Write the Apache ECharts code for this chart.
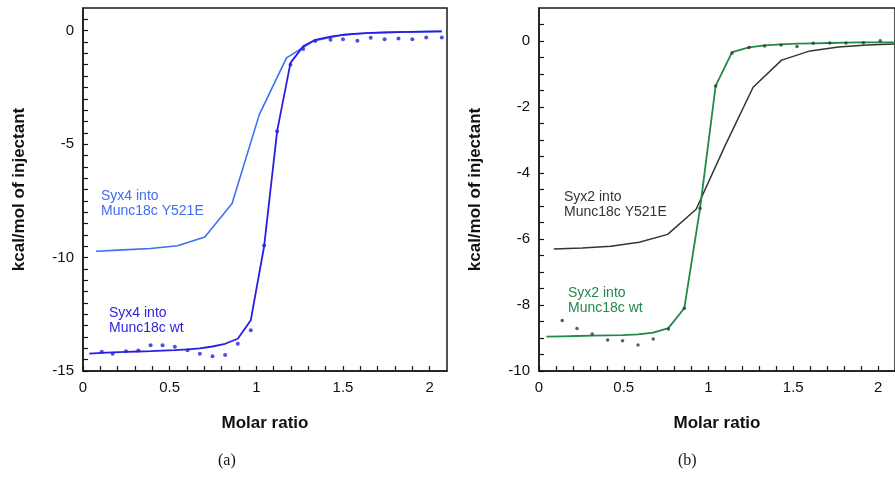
<!DOCTYPE html>
<html>
<head>
<meta charset="utf-8">
<script src="https://cdn.jsdelivr.net/npm/echarts@6/dist/echarts.min.js"></script>
<style>
html,body{margin:0;padding:0;background:#fff;}
#c{width:895px;height:477px;}
</style>
</head>
<body>
<div id="c"></div>
<script>
// ---- Panel (a): Syx4 ----
const a_y521e_x = [0.075, 0.232, 0.389, 0.546, 0.703, 0.860, 1.017, 1.174, 1.331, 1.488, 1.645, 1.802, 1.959, 2.07];
const a_y521e_fit = [-9.72, -9.66, -9.60, -9.48, -9.09, -7.62, -3.70, -1.20, -0.45, -0.20, -0.10, -0.06, -0.04, -0.03];

const a_wt_fit_x = [0.036, 0.108, 0.171, 0.248, 0.319, 0.390, 0.459, 0.530, 0.603, 0.674, 0.747, 0.820, 0.893, 0.968, 1.045, 1.120, 1.197, 1.270, 1.340, 1.428, 1.500, 1.583, 1.660, 1.740, 1.820, 1.900, 1.980, 2.070];
const a_wt_fit = [-14.23, -14.20, -14.18, -14.16, -14.14, -14.12, -14.10, -14.08, -14.05, -14.00, -13.92, -13.80, -13.58, -12.76, -9.50, -4.43, -1.42, -0.69, -0.40, -0.26, -0.18, -0.13, -0.10, -0.08, -0.06, -0.05, -0.04, -0.03];

const a_wt_pts_x = [0.108, 0.171, 0.248, 0.319, 0.390, 0.459, 0.530, 0.603, 0.674, 0.747, 0.820, 0.893, 0.968, 1.045, 1.120, 1.197, 1.270, 1.340, 1.428, 1.500, 1.583, 1.660, 1.740, 1.820, 1.900, 1.980, 2.070];
const a_wt_pts = [-14.15, -14.24, -14.13, -14.10, -13.86, -13.86, -13.93, -14.08, -14.24, -14.35, -14.30, -13.80, -13.20, -9.47, -4.43, -1.50, -0.81, -0.45, -0.40, -0.38, -0.44, -0.31, -0.38, -0.34, -0.38, -0.30, -0.30];

// ---- Panel (b): Syx2 ----
const b_y521e_x = [0.087, 0.255, 0.423, 0.591, 0.759, 0.927, 1.095, 1.263, 1.431, 1.599, 1.767, 1.935, 2.103];
const b_y521e_fit = [-6.30, -6.27, -6.22, -6.10, -5.86, -5.10, -3.20, -1.40, -0.58, -0.30, -0.18, -0.12, -0.09];

const b_wt_fit_x = [0.044, 0.137, 0.224, 0.314, 0.405, 0.493, 0.584, 0.674, 0.763, 0.857, 0.950, 1.042, 1.139, 1.239, 1.331, 1.428, 1.522, 1.618, 1.715, 1.811, 1.913, 2.013, 2.100];
const b_wt_fit = [-8.96, -8.95, -8.94, -8.93, -8.92, -8.91, -8.89, -8.84, -8.70, -8.10, -5.07, -1.36, -0.34, -0.19, -0.13, -0.10, -0.08, -0.07, -0.06, -0.05, -0.04, -0.04, -0.04];

const b_wt_pts_x = [0.137, 0.224, 0.314, 0.405, 0.493, 0.584, 0.674, 0.763, 0.857, 0.950, 1.042, 1.139, 1.239, 1.331, 1.428, 1.522, 1.618, 1.715, 1.811, 1.913, 2.013];
const b_wt_pts = [-8.47, -8.71, -8.88, -9.06, -9.08, -9.21, -9.03, -8.73, -8.10, -5.07, -1.36, -0.36, -0.20, -0.15, -0.12, -0.17, -0.07, -0.06, -0.06, -0.05, 0.01];

// ---- Axis tick labels ----
const xTickLabels = ['0', '0.5', '1', '1.5', '2'];
const aYTickLabels = ['-15', '-10', '-5', '0'];
const bYTickLabels = ['-10', '-8', '-6', '-4', '-2', '0'];

const zip = (xs, ys) => xs.map((x, i) => [x, ys[i]]);
const pick = (v, list) => { const s = list.find(t => Math.abs(parseFloat(t) - v) < 1e-6); return s === undefined ? '' : s; };

const C_A_MUT = '#3f6ef0';
const C_A_WT = '#2a1fe0';
const C_B_MUT = '#2e3833';
const C_B_WT = '#1f8a4a';
const FRAME = '#1a1a1a';
const FONT = 'Liberation Sans, Arial, Helvetica, sans-serif';

function xAxisFor(g) {
  return {
    type: 'value', gridIndex: g, min: 0, max: 2.1, interval: 0.1,
    name: 'Molar ratio', nameLocation: 'middle', nameGap: 44,
    nameTextStyle: { fontFamily: FONT, fontWeight: 'bold', fontSize: 17, color: '#111' },
    axisLine: { show: true, onZero: false, lineStyle: { color: FRAME, width: 1.5 } },
    axisTick: { show: true, inside: true, length: 5, lineStyle: { color: FRAME, width: 1.2 } },
    axisLabel: {
      margin: 9, fontFamily: FONT, fontSize: 15, color: '#111',
      showMaxLabel: false,
      formatter: v => pick(v, xTickLabels)
    },
    splitLine: { show: false }
  };
}
function yAxisFor(g, min, labels) {
  return {
    type: 'value', gridIndex: g, min: min, max: 1, interval: 0.5,
    name: 'kcal/mol of injectant', nameLocation: 'middle', nameGap: 55, nameRotate: 90,
    nameTextStyle: { fontFamily: FONT, fontWeight: 'bold', fontSize: 17, color: '#111' },
    axisLine: { show: true, onZero: false, lineStyle: { color: FRAME, width: 1.5 } },
    axisTick: { show: true, inside: true, length: 5, lineStyle: { color: FRAME, width: 1.2 } },
    axisLabel: {
      margin: 9, fontFamily: FONT, fontSize: 15, color: '#111',
      showMaxLabel: false,
      formatter: v => pick(v, labels)
    },
    splitLine: { show: false }
  };
}

const chart = echarts.init(document.getElementById('c'), null, { renderer: 'canvas' });

const txt = (x, y, text, color) => ({
  type: 'text', left: x, top: y,
  style: { text: text, fill: color, font: '14px ' + FONT, lineHeight: 15 }
});

chart.setOption({
  animation: false,
  backgroundColor: '#fff',
  grid: [
    { left: 83, top: 8, width: 364, height: 363, show: true, borderColor: FRAME, borderWidth: 1.5, backgroundColor: 'transparent' },
    { left: 539, top: 8, width: 364, height: 363, show: true, borderColor: FRAME, borderWidth: 1.5, backgroundColor: 'transparent' }
  ],
  xAxis: [xAxisFor(0), xAxisFor(1)],
  yAxis: [yAxisFor(0, -15, aYTickLabels), yAxisFor(1, -10, bYTickLabels)],
  series: [
    { type: 'line', xAxisIndex: 0, yAxisIndex: 0, data: zip(a_y521e_x, a_y521e_fit), showSymbol: false, symbol: 'none',
      lineStyle: { color: C_A_MUT, width: 1.6 }, z: 2 },
    { type: 'line', xAxisIndex: 0, yAxisIndex: 0, data: zip(a_wt_fit_x, a_wt_fit), showSymbol: false, symbol: 'none',
      lineStyle: { color: C_A_WT, width: 1.8 }, z: 3 },
    { type: 'scatter', xAxisIndex: 0, yAxisIndex: 0, data: zip(a_wt_pts_x, a_wt_pts), symbol: 'circle', symbolSize: 4,
      itemStyle: { color: C_A_WT }, z: 4 },
    { type: 'line', xAxisIndex: 1, yAxisIndex: 1, data: zip(b_y521e_x, b_y521e_fit), showSymbol: false, symbol: 'none',
      lineStyle: { color: C_B_MUT, width: 1.5 }, z: 2 },
    { type: 'line', xAxisIndex: 1, yAxisIndex: 1, data: zip(b_wt_fit_x, b_wt_fit), showSymbol: false, symbol: 'none',
      lineStyle: { color: C_B_WT, width: 1.8 }, z: 3 },
    { type: 'scatter', xAxisIndex: 1, yAxisIndex: 1, data: zip(b_wt_pts_x, b_wt_pts), symbol: 'circle', symbolSize: 3.5,
      itemStyle: { color: C_B_MUT }, z: 4 }
  ],
  graphic: [
    txt(101, 189, 'Syx4 into\nMunc18c Y521E', C_A_MUT),
    txt(109, 306, 'Syx4 into\nMunc18c wt', C_A_WT),
    txt(564, 190, 'Syx2 into\nMunc18c Y521E', C_B_MUT),
    txt(568, 286, 'Syx2 into\nMunc18c wt', C_B_WT),
    { type: 'text', left: 218, top: 453, style: { text: '(a)', fill: '#111', font: '16px Liberation Serif, serif' } },
    { type: 'text', left: 678, top: 453, style: { text: '(b)', fill: '#111', font: '16px Liberation Serif, serif' } }
  ]
});
</script>
</body>
</html>
